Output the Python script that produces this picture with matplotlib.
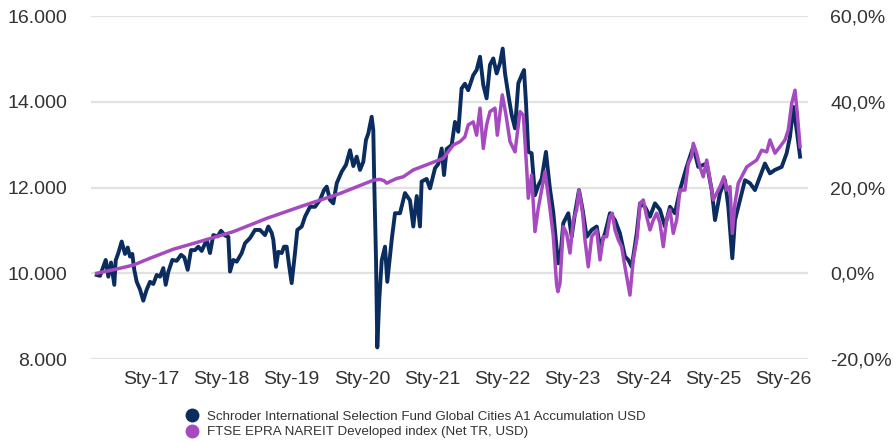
import matplotlib
matplotlib.use("Agg")
import matplotlib.pyplot as plt
from matplotlib.lines import Line2D
from matplotlib.ticker import FuncFormatter, FixedLocator

plt.rcParams['font.family'] = ['Liberation Sans', 'DejaVu Sans']

# values, x as decimal year
fund_x = [2016.228, 2016.275, 2016.321, 2016.356, 2016.393, 2016.431, 2016.478, 2016.498,
          2016.535, 2016.583, 2016.630, 2016.669, 2016.701, 2016.734, 2016.762, 2016.797,
          2016.844, 2016.890, 2016.939, 2016.986, 2017.033, 2017.081, 2017.128, 2017.175,
          2017.209, 2017.246, 2017.303, 2017.366, 2017.427, 2017.474, 2017.522, 2017.569,
          2017.626, 2017.673, 2017.721, 2017.792, 2017.839, 2017.886, 2017.949, 2017.996,
          2018.053, 2018.100, 2018.124, 2018.171, 2018.219, 2018.290, 2018.337, 2018.408,
          2018.479, 2018.550, 2018.622, 2018.669, 2018.717, 2018.740, 2018.778, 2018.811,
          2018.859, 2018.892, 2018.930, 2018.967, 2019.001, 2019.048, 2019.081, 2019.144,
          2019.191, 2019.262, 2019.333, 2019.404, 2019.461, 2019.499, 2019.546, 2019.593,
          2019.642, 2019.713, 2019.774, 2019.831, 2019.878, 2019.926, 2019.973, 2020.020,
          2020.058, 2020.091, 2020.139, 2020.162, 2020.176, 2020.201, 2020.219, 2020.247,
          2020.282, 2020.329, 2020.361, 2020.424, 2020.471, 2020.542, 2020.613, 2020.684,
          2020.731, 2020.780, 2020.826, 2020.850, 2020.921, 2020.969, 2021.040, 2021.087,
          2021.135, 2021.168, 2021.206, 2021.277, 2021.324, 2021.371, 2021.418, 2021.465,
          2021.512, 2021.584, 2021.632, 2021.680, 2021.727, 2021.774, 2021.822, 2021.869,
          2021.917, 2021.964, 2022.003, 2022.036, 2022.083, 2022.131, 2022.178, 2022.225,
          2022.273, 2022.306, 2022.334, 2022.367, 2022.414, 2022.462, 2022.509, 2022.557,
          2022.618, 2022.674, 2022.721, 2022.770, 2022.794, 2022.818, 2022.865, 2022.936,
          2022.984, 2023.031, 2023.088, 2023.140, 2023.197, 2023.268, 2023.340, 2023.387,
          2023.458, 2023.529, 2023.600, 2023.671, 2023.742, 2023.790, 2023.838, 2023.909,
          2023.956, 2024.027, 2024.098, 2024.169, 2024.240, 2024.311, 2024.382, 2024.453,
          2024.524, 2024.619, 2024.714, 2024.785, 2024.905, 2024.976, 2025.023, 2025.094,
          2025.165, 2025.212, 2025.269, 2025.307, 2025.378, 2025.449, 2025.520, 2025.591,
          2025.662, 2025.733, 2025.804, 2025.875, 2025.971, 2026.042, 2026.089, 2026.137,
          2026.185, 2026.233]
fund_y = [9960, 9940, 10150, 10310, 9920, 10250, 9730, 10300,
          10470, 10740, 10450, 10600, 10390, 10450, 10080, 9800,
          9620, 9360, 9620, 9800, 9750, 9960, 9920, 10120,
          9730, 10030, 10310, 10290, 10430, 10370, 10080, 10540,
          10540, 10620, 10520, 10780, 10470, 10890, 10860, 10990,
          10880, 10850, 10040, 10310, 10270, 10470, 10700, 10820,
          11010, 11010, 10890, 11090, 10940, 10780, 10150, 10500,
          10470, 10620, 10620, 10150, 9770, 10470, 11010, 11090,
          11320, 11550, 11550, 11710, 11940, 12020, 11710, 11630,
          12100, 12370, 12530, 12870, 12500, 12720, 12410, 12600,
          13110, 13260, 13650, 13340, 12100, 10310, 8270, 9380,
          10300, 10620, 9800, 10780, 11400, 11400, 11870, 11700,
          11090, 11800, 11090, 12140, 12200, 11980, 12450, 12550,
          12910, 12290, 12900, 12990, 13530, 13300, 14310, 14420,
          14270, 14620, 14740, 15050, 14390, 14080, 14860, 15010,
          14660, 14900, 15240, 14660, 14160, 13690, 13380, 14430,
          14620, 14740, 13980, 12830, 12800, 11820, 12050, 12200,
          12830, 11980, 11440, 10580, 10230, 10300, 11170, 11400,
          10850, 11400, 11940, 11480, 10850, 11010, 11090, 10620,
          10930, 11400, 11240, 10930, 10390, 10310, 10150, 10930,
          11630, 11550, 11320, 11630, 11480, 11090, 11550, 11400,
          11940, 12480, 12950, 12480, 12560, 11940, 11240, 11870,
          12170, 11550, 10350, 11240, 11710, 12170, 12100, 11940,
          12250, 12560, 12330, 12410, 12480, 12800, 13180, 13880,
          13340, 12720]

index_x = [2016.228, 2016.488, 2016.748, 2016.986, 2017.317, 2017.697, 2018.171, 2018.646,
           2019.119, 2019.688, 2020.162, 2020.257, 2020.314, 2020.353, 2020.400, 2020.495,
           2020.589, 2020.731, 2020.969, 2021.158, 2021.300, 2021.395, 2021.465, 2021.512,
           2021.584, 2021.632, 2021.680, 2021.727, 2021.774, 2021.822, 2021.893, 2021.926,
           2021.997, 2022.050, 2022.107, 2022.178, 2022.249, 2022.296, 2022.344, 2022.367,
           2022.414, 2022.462, 2022.509, 2022.605, 2022.674, 2022.721, 2022.770, 2022.788,
           2022.818, 2022.865, 2022.912, 2022.960, 2023.007, 2023.055, 2023.088, 2023.140,
           2023.173, 2023.220, 2023.268, 2023.340, 2023.387, 2023.434, 2023.482, 2023.529,
           2023.562, 2023.600, 2023.647, 2023.695, 2023.742, 2023.813, 2023.860, 2023.917,
           2023.956, 2024.003, 2024.051, 2024.098, 2024.145, 2024.193, 2024.240, 2024.287,
           2024.334, 2024.382, 2024.429, 2024.477, 2024.524, 2024.595, 2024.643, 2024.690,
           2024.714, 2024.761, 2024.809, 2024.856, 2024.905, 2024.952, 2024.999, 2025.047,
           2025.094, 2025.151, 2025.189, 2025.236, 2025.269, 2025.307, 2025.354, 2025.402,
           2025.474, 2025.545, 2025.616, 2025.687, 2025.758, 2025.805, 2025.876, 2025.947,
           2026.018, 2026.065, 2026.114, 2026.161, 2026.193, 2026.233]
index_y = [10000, 10090, 10190, 10350, 10560, 10740, 10970, 11280,
           11550, 11860, 12170, 12190, 12160, 12100, 12140, 12210,
           12250, 12410, 12560, 12680, 12990, 13070, 13180, 13460,
           13530, 13220, 13850, 12910, 13460, 13770, 13850, 13220,
           14160, 13690, 13070, 12830, 13770, 13690, 12450, 11750,
           12290, 10970, 11520, 12370, 11520, 10890, 9730, 9570,
           9770, 11090, 10930, 10470, 11240, 11480, 11940, 11400,
           10780, 10150, 10850, 11010, 10310, 10850, 10850, 11320,
           11400, 11010, 10780, 10620, 10150, 9490, 10310, 10850,
           11630, 11710, 11320, 11010, 11240, 11400, 11170, 10620,
           11240, 11480, 10930, 11240, 11940, 11940, 12560, 12720,
           13030, 12800, 12480, 12250, 12640, 12170, 11710, 11870,
           12020, 12250, 11940, 12020, 10930, 11630, 12100, 12250,
           12480, 12560, 12640, 12870, 12830, 13110, 12800, 12950,
           13110, 13340, 13960, 14270, 13730, 12950]

fund_label = 'Schroder International Selection Fund Global Cities A1 Accumulation USD'
index_label = 'FTSE EPRA NAREIT Developed index (Net TR, USD)'
year_ticks = list(range(2017, 2027))
year_labels = ['Sty-%02d' % (y % 100) for y in year_ticks]

navy = '#0b2c5e'
purple = '#a64bbf'
text_col = '#333333'

fig = plt.figure(figsize=(8.93, 4.44), dpi=100)
ax = fig.add_axes([91 / 893, 1 - 359 / 444, 717 / 893, 343 / 444])

ax.plot(fund_x, fund_y, color=navy, lw=2.8, solid_joinstyle='round', zorder=3)
ax.plot(index_x, index_y, color=purple, lw=2.5, solid_joinstyle='round', zorder=4)

ax.set_xlim(2016.1465, 2026.3457)
ax.set_ylim(8000, 16000)
ax.set_yticks([8000, 10000, 12000, 14000, 16000])
ax.yaxis.set_major_formatter(FuncFormatter(lambda v, p: '{:,.0f}'.format(v).replace(',', '.')))
ax.set_xticks(year_ticks)
ax.set_xticklabels(year_labels)
ax.grid(axis='y', color='#e2e2e2', lw=1.6, zorder=0)
ax.tick_params(axis='y', length=0, pad=17, labelsize=14, labelcolor=text_col)
ax.tick_params(axis='x', length=0, pad=9, labelsize=14, labelcolor=text_col)
for s in ax.spines.values():
    s.set_visible(False)
ax.axhline(8000, color='#cfcfcf', lw=1.8, zorder=1)

ax2 = ax.twinx()
ax2.set_ylim(-20, 60)
ax2.yaxis.set_major_locator(FixedLocator([-20, 0, 20, 40, 60]))
ax2.yaxis.set_major_formatter(FuncFormatter(lambda v, p: ('%.1f%%' % v).replace('.', ',')))
ax2.tick_params(axis='y', length=0, pad=16, labelsize=14, labelcolor=text_col)
for s in ax2.spines.values():
    s.set_visible(False)

handles = [Line2D([], [], ls='none', marker='o', ms=9, color=navy),
           Line2D([], [], ls='none', marker='o', ms=9, color=purple)]
fig.legend(handles, [fund_label, index_label], loc='upper left',
           bbox_to_anchor=(180 / 893, 1 - 404 / 444), frameon=False,
           fontsize=9.6, labelcolor=text_col, handlelength=0.8,
           handletextpad=0.7, labelspacing=0.22, borderpad=0)

fig.savefig('out.png', dpi=100)
